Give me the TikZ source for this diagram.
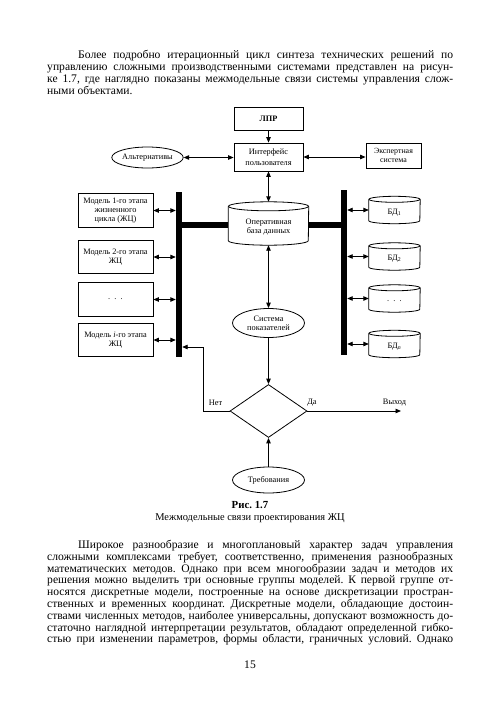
\documentclass[tikz,border=0pt]{standalone}
\usepackage{fontspec}
\setmainfont{Liberation Serif}
\frenchspacing
\usetikzlibrary{arrows.meta,shapes.geometric,calc}
\newcommand\mycyl[7]{% name, cx, cy (px down), w, h, ry, text
  \node[inner sep=0pt, minimum width=#4pt, minimum height=#5pt] (#1) at (#2,-#3) {};
  \draw[cylline] ($(#1.north west)+(0,-#6)$) -- ($(#1.south west)+(0,#6)$)
     arc[start angle=180, end angle=360, x radius={#4*0.5pt}, y radius=#6pt]
     -- ($(#1.north east)+(0,-#6)$);
  \draw[cylline] ($(#1.north)+(0,-#6)$) ellipse[x radius={#4*0.5pt}, y radius=#6pt];
  \node[diag] (#1-t) at ($(#1.center)+(0,-#6*0.8)$) {#7};
}
\begin{document}
\frenchspacing
\begin{tikzpicture}[x=1pt,y=1pt,
  diag/.style={font=\fontsize{8.3}{9.3}\selectfont, align=center, inner sep=0pt},
  box/.style={diag, draw, line width=0.8pt, rectangle},
  oval/.style={diag, draw, line width=0.8pt, ellipse},
  cylline/.style={line width=0.8pt},
  conn/.style={line width=0.9pt},
  arr/.style={conn, -{Triangle[length=5.5pt,width=4.5pt]}},
  darr/.style={conn, {Triangle[length=5.5pt,width=4.5pt]}-{Triangle[length=5.5pt,width=4.5pt]}},
  bus/.style={fill=black, inner sep=0pt, minimum width=6pt, minimum height=165pt},
  bar/.style={line width=6pt},
  body/.style={font=\fontsize{11.6}{12.2}\selectfont, inner sep=0pt, anchor=base west},
  capt/.style={font=\fontsize{10.4}{12}\selectfont, inner sep=0pt, anchor=base},
]
\fill[white] (0,0) rectangle (500,-707);
\useasboundingbox (0,0) rectangle (500,-707);

% --- top paragraph ---
\node[body] (p1) at (47,-58)   {\makebox[406pt][s]{\hspace*{31pt}Более подробно итерационный цикл синтеза технических решений по}};
\node[body] (p2) at (47,-70.2) {\makebox[406pt][s]{управлению сложными производственными системами представлен на рисун-}};
\node[body] (p3) at (47,-82.4) {\makebox[406pt][s]{ке 1.7, где наглядно показаны межмодельные связи системы управления слож-}};
\node[body] (p4) at (47,-94.6) {ными объектами.};

% --- diagram ---
\node[box, minimum width=69pt, minimum height=23pt, font={\fontsize{8.3}{9.3}\selectfont\bfseries}] (lpr) at (268.5,-118.5) {ЛПР};
\node[box, minimum width=69pt, minimum height=28pt, font={\fontsize{8.3}{10.5}\selectfont}] (ui) at (268.5,-157) {Интерфейс\\пользователя};
\node[oval, minimum width=69pt, minimum height=21pt] (alt) at (147.5,-157.5) {Альтернативы};
\node[box, minimum width=55pt, minimum height=25pt, font={\fontsize{7.9}{9.3}\selectfont}] (exp) at (393.5,-155.5) {Экспертная\\система};

\mycyl{odb}{268.5}{223.5}{80}{43}{4.5}{Оперативная\\база данных}

\node[bus] (lbus) at (179,-274.5) {};
\node[bus] (rbus) at (344,-272.5) {};

\node[box, minimum width=75pt, minimum height=33.5pt] (m1) at (115.5,-210.5) {Модель 1-го этапа\\жизненного\\цикла (ЖЦ)};
\node[box, minimum width=75pt, minimum height=33.5pt] (m2) at (115.5,-257) {Модель 2-го этапа\\ЖЦ};
\node[box, minimum width=75pt, minimum height=33.5pt] (m3) at (115.5,-299.5) {.\ \ .\ \ .};
\node[box, minimum width=75pt, minimum height=33.5pt] (m4) at (115.5,-340) {Модель \textit{i}-го этапа\\ЖЦ};

\mycyl{d1}{394.5}{210}{51}{27}{3}{БД\textsubscript{1}}
\mycyl{d2}{394.5}{256.5}{51}{27}{3}{БД\textsubscript{2}}
\mycyl{d3}{394.5}{298.5}{51}{27}{3}{.\ \ .\ \ .}
\mycyl{d4}{394.5}{344}{51}{27}{3}{БД\textsubscript{\textit{n}}}

\node[oval, minimum width=72pt, minimum height=29pt] (sys) at (268.5,-323) {Система\\показателей};
\node[diamond, draw, line width=0.8pt, inner sep=0pt, minimum width=77pt, minimum height=53pt] (dia) at (268.5,-411) {};
\node[oval, minimum width=72pt, minimum height=26pt] (req) at (268.5,-480) {Требования};

\node[diag] (lno) at (215.5,-403) {Нет};
\node[diag] (lyes) at (312,-403) {Да};
\node[diag] (lout) at (394.5,-403) {Выход};
\coordinate (out) at (401,-411);
\coordinate (nk) at (203,-347);

% connectors
\draw[arr] (lpr.south) -- (ui.north);
\draw[darr] (alt.east) -- (alt.east -| ui.west);
\draw[darr] (ui.east) -- (ui.east -| exp.west);
\draw[darr] (ui.south) -- (odb.north);
\draw[darr] (odb.south) -- (sys.north);
\draw[arr] (sys.south) -- (dia.north);
\draw[arr] (req.north) -- (dia.south);
\draw[arr] (dia.east) -- (out);
\draw[arr] (dia.west) -| (nk) -- (nk -| lbus.east);

\draw[bar] ($(lbus.east |- odb.west)+(0,-1.5)$) -- ($(odb.west)+(0,-1.5)$);
\draw[bar] ($(odb.east)+(0,-1.5)$) -- ($(rbus.west |- odb.east)+(0,-1.5)$);

\foreach \m in {m1,m2,m3,m4} \draw[darr] (\m.east) -- (\m.east -| lbus.west);
\foreach \d in {d1,d2,d3,d4} \draw[darr] (\d.west -| rbus.east) -- (\d.west);

% caption
\node[capt, font={\fontsize{10.8}{12}\selectfont\bfseries}] (cap1) at (250,-508.5) {Рис. 1.7};
\node[capt] (cap2) at (250,-520) {Межмодельные связи проектирования ЖЦ};

% --- bottom paragraph ---
\node[body] (q1) at (47,-548.5) {\makebox[406pt][s]{\hspace*{31pt}Широкое разнообразие и многоплановый характер задач управления}};
\node[body] (q2) at (47,-560.3) {\makebox[406pt][s]{сложными комплексами требует, соответственно, применения разнообразных}};
\node[body] (q3) at (47,-572.1) {\makebox[406pt][s]{математических методов. Однако при всем многообразии задач и методов их}};
\node[body] (q4) at (47,-583.9) {\makebox[406pt][s]{решения можно выделить три основные группы моделей. К первой группе от-}};
\node[body] (q5) at (47,-595.7) {\makebox[406pt][s]{носятся дискретные модели, построенные на основе дискретизации простран-}};
\node[body] (q6) at (47,-607.5) {\makebox[406pt][s]{ственных и временных координат. Дискретные модели, обладающие достоин-}};
\node[body] (q7) at (47,-619.3) {\makebox[406pt][s]{ствами численных методов, наиболее универсальны, допускают возможность до-}};
\node[body] (q8) at (47,-631.1) {\makebox[406pt][s]{статочно наглядной интерпретации результатов, обладают определенной гибко-}};
\node[body] (q9) at (47,-642.9) {\makebox[406pt][s]{стью при изменении параметров, формы области, граничных условий. Однако}};

\node[capt, font=\fontsize{11.6}{12}\selectfont] (pg) at (250,-668) {15};
\end{tikzpicture}
\end{document}
